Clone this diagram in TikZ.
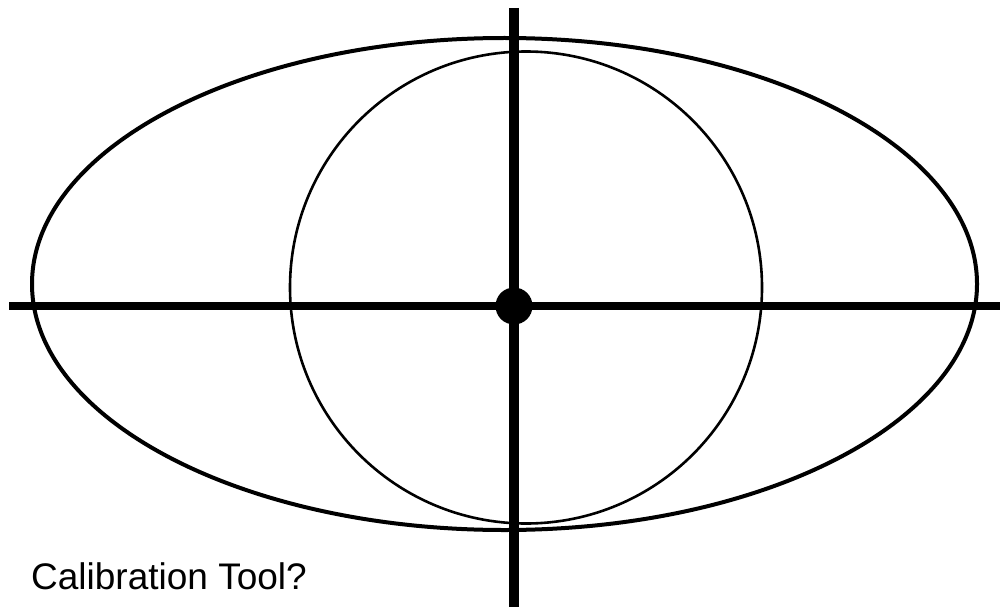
\documentclass[tikz,border=0pt]{standalone}
\usepackage{fontspec}
\setmainfont{Liberation Sans}
\begin{document}
\begin{tikzpicture}[x=1pt,y=-1pt,
  outline/.style={draw=black, line width=4pt},
  ring/.style={draw=black, line width=2.6pt},
  haxis/.style={draw=black, line width=8pt, line cap=butt},
  vaxis/.style={draw=black, line width=10pt, line cap=butt},
  label/.style={anchor=base west, inner sep=0pt, font=\fontsize{37}{41}\selectfont}]
\useasboundingbox (0,0) rectangle (1000,607);
\fill[white] (0,0) rectangle (1000,607);
\draw[outline] (504.5,284) ellipse [x radius=472.5, y radius=246];
\draw[ring] (526,287.5) circle [radius=236];
\coordinate (hl) at (9,306);
\coordinate (hr) at (1000,306);
\coordinate (vt) at (514,8);
\coordinate (vb) at (514,607);
\draw[haxis] (hl) -- (hr);
\draw[vaxis] (vt) -- (vb);
\node[circle, fill=black, minimum size=37pt, inner sep=0pt] (centre) at (514,306) {};
\node[label] (caption) at (31,589) {Calibration Tool?};
\end{tikzpicture}
\end{document}
